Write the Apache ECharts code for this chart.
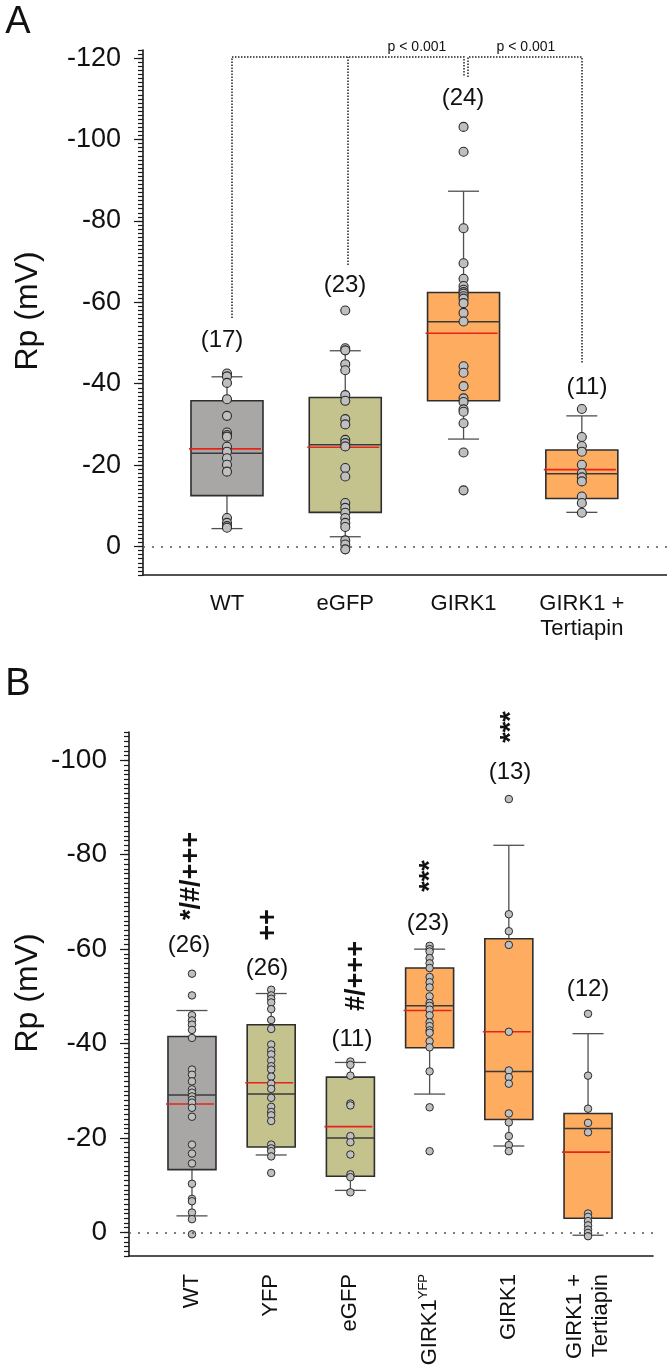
<!DOCTYPE html>
<html><head><meta charset="utf-8">
<script src="https://cdn.jsdelivr.net/npm/echarts@6/dist/echarts.min.js"></script>
<style>html,body{margin:0;padding:0;background:#fff}#c{width:667px;height:1369px}</style>
</head><body><div id="c"></div>
<script>
// ---------- Panel A data ----------
const catsA = ['WT', 'eGFP', 'GIRK1', 'GIRK1 +\nTertiapin'];
const nA = ['(17)', '(23)', '(24)', '(11)'];
const ticksA = [-120, -100, -80, -60, -40, -20, 0];
const whiskLowA = [-4.4, -2.4, -26.4, -8.4];
const q1A = [-12.5, -8.4, -35.8, -11.8];
const medianA = [-22.9, -25.0, -55.2, -17.9];
const q3A = [-35.8, -36.6, -62.4, -23.7];
const whiskHighA = [-41.7, -48.1, -87.3, -32.1];
const meanA = [-24.0, -24.4, -52.4, -18.9];
const ptsA_WT = [-42.5, -41.8, -40.2, -36.2, -32.1, -28.0, -27.4, -27.0, -24.5, -23.3, -21.7, -20.1, -18.4, -7.0, -5.8, -5.0, -4.6];
const ptsA_eGFP = [-58.0, -48.7, -48.2, -44.8, -43.3, -37.2, -35.8, -31.3, -30.0, -26.2, -25.4, -24.6, -19.3, -17.2, -10.7, -9.5, -8.3, -7.0, -5.8, -4.8, -1.5, -0.5, 0.7];
const ptsA_GIRK1 = [-103.1, -97.0, -78.2, -69.6, -65.8, -64.0, -63.1, -62.5, -62.1, -61.5, -60.9, -59.8, -57.4, -55.3, -44.3, -42.7, -39.4, -36.4, -35.5, -33.7, -33.1, -30.3, -23.1, -13.8];
const ptsA_Tert = [-33.8, -26.9, -24.7, -23.3, -20.1, -18.0, -17.0, -16.0, -12.3, -10.7, -8.3];

// ---------- Panel B data ----------
const catsB = ['WT', 'YFP', 'eGFP', 'GIRK1YFP', 'GIRK1', 'GIRK1 +\nTertiapin'];
const nB = ['(26)', '(26)', '(11)', '(23)', '(13)', '(12)'];
const sigB = ['*/#/+++', '++', '#/+++', '***', '***', ''];
const ticksB = [-100, -80, -60, -40, -20, 0];
const whiskLowB = [-3.5, -16.4, -8.9, -29.3, -18.3, 0.6];
const q1B = [-13.3, -18.1, -11.9, -39.1, -23.9, -3.0];
const medianB = [-29.1, -29.3, -20.0, -48.0, -34.1, -22.0];
const q3B = [-41.5, -44.0, -32.9, -56.0, -62.2, -25.2];
const whiskHighB = [-47.0, -50.6, -36.0, -60.0, -82.0, -42.1];
const meanB = [-27.2, -31.7, -22.4, -47.0, -42.5, -17.0];
const ptsB_WT = [-54.8, -50.2, -46.0, -44.9, -44.0, -42.9, -41.2, -34.5, -33.4, -32.0, -30.3, -29.6, -28.8, -28.1, -27.5, -26.4, -24.5, -18.6, -16.7, -14.6, -10.3, -7.1, -6.6, -4.2, -2.8, 0.4];
const ptsB_YFP = [-51.4, -50.2, -49.5, -48.7, -47.3, -45.0, -43.1, -39.8, -38.5, -37.7, -36.4, -35.2, -34.5, -33.0, -31.5, -30.4, -28.5, -26.6, -25.5, -24.8, -23.6, -18.6, -17.8, -17.2, -16.1, -12.6];
const ptsB_eGFP = [-36.2, -35.5, -33.2, -27.3, -26.9, -20.4, -19.1, -16.5, -12.3, -11.7, -8.5];
const ptsB_GIRK1YFP = [-60.7, -60.0, -59.5, -58.1, -57.0, -56.0, -54.1, -53.0, -51.9, -50.0, -48.6, -48.0, -47.2, -46.0, -44.5, -43.7, -42.8, -42.3, -40.5, -39.2, -34.1, -26.5, -17.2];
const ptsB_GIRK1 = [-91.8, -67.4, -63.8, -60.9, -42.5, -34.3, -32.9, -31.5, -25.2, -23.3, -20.4, -18.5, -17.2];
const ptsB_Tert = [-46.3, -33.2, -26.2, -23.2, -21.2, -4.0, -3.3, -2.4, -1.5, -0.6, 0.1, 0.8];

// ---------- styling ----------
const FONT = 'Liberation Sans, Arial, Helvetica, sans-serif';
const GRAY = '#a9a6a6', OLIVE = '#c4c38d', ORANGE = '#fdac60';
const colorsA = [GRAY, OLIVE, ORANGE, ORANGE];
const colorsB = [GRAY, OLIVE, OLIVE, ORANGE, ORANGE, ORANGE];

function boxData(lo, q1, md, q3, hi, mn) {
  return lo.map((_, i) => [i, lo[i], q1[i], md[i], q3[i], hi[i], mn[i]]);
}
function ptsData(groups) {
  const out = [];
  groups.forEach((g, i) => g.forEach(v => out.push([i, v])));
  return out;
}
function boxRender(boxW, capW, colors) {
  return function (params, api) {
    const i = api.value(0);
    const c = v => api.coord([i, v]);
    const lo = c(api.value(1)), q1 = c(api.value(2)), md = c(api.value(3)),
          q3 = c(api.value(4)), hi = c(api.value(5)), mn = c(api.value(6));
    const x = lo[0];
    const top = Math.min(q1[1], q3[1]), bot = Math.max(q1[1], q3[1]);
    const wl = { stroke: '#505050', lineWidth: 1.3 };
    return {
      type: 'group', children: [
        { type: 'line', shape: { x1: x, y1: hi[1], x2: x, y2: top }, style: wl },
        { type: 'line', shape: { x1: x, y1: bot, x2: x, y2: lo[1] }, style: wl },
        { type: 'line', shape: { x1: x - capW / 2, y1: hi[1], x2: x + capW / 2, y2: hi[1] }, style: wl },
        { type: 'line', shape: { x1: x - capW / 2, y1: lo[1], x2: x + capW / 2, y2: lo[1] }, style: wl },
        { type: 'rect', shape: { x: x - boxW / 2, y: top, width: boxW, height: bot - top }, style: { fill: colors[i], stroke: '#2e2e2e', lineWidth: 1.6 } },
        { type: 'line', shape: { x1: x - boxW / 2, y1: md[1], x2: x + boxW / 2, y2: md[1] }, style: { stroke: '#3a3a3a', lineWidth: 1.5 } },
        { type: 'line', shape: { x1: x - boxW / 2 - 2, y1: mn[1], x2: x + boxW / 2 - 2, y2: mn[1] }, style: { stroke: '#e8231b', lineWidth: 1.6 } }
      ]
    };
  };
}

function yAxes(gi, min, max, ticks, fs, margin) {
  return [
    {
      gridIndex: gi, type: 'value', inverse: true, min: min, max: max, interval: 1, position: 'left',
      axisLine: { show: true, onZero: false, lineStyle: { color: '#1a1a1a', width: 1.6 } },
      axisTick: { show: true, length: 5, lineStyle: { color: '#1a1a1a', width: 1.2 } },
      axisLabel: { show: true, customValues: ticks, fontSize: fs, fontFamily: FONT, color: '#111', margin: margin },
      splitLine: { show: false }
    },
    {
      gridIndex: gi, type: 'value', inverse: true, min: min, max: max, position: 'left',
      axisLine: { show: false, onZero: false },
      axisTick: { show: true, customValues: ticks, length: 9, lineStyle: { color: '#1a1a1a', width: 1.2 } },
      axisLabel: { show: false },
      splitLine: { show: false }
    }
  ];
}

const zeroLine = {
  silent: true, symbol: 'none', label: { show: false },
  lineStyle: { type: [2, 7], color: '#555', width: 1.5 },
  data: [{ yAxis: 0 }]
};

const option = {
  animation: false,
  backgroundColor: '#fff',
  grid: [
    { left: 143, top: 50, width: 524, height: 525 },
    { left: 129, top: 732, width: 524, height: 524 }
  ],
  xAxis: [
    {
      gridIndex: 0, type: 'value', min: -0.71, max: 3.72,
      axisLine: { show: true, onZero: false, lineStyle: { color: '#1a1a1a', width: 1.6 } },
      axisTick: { show: false }, splitLine: { show: false },
      axisLabel: { customValues: [0, 1, 2, 3], formatter: v => catsA[Math.round(v)], fontSize: 22, fontFamily: FONT, color: '#111', margin: 16, lineHeight: 25 }
    },
    {
      gridIndex: 1, type: 'value', min: -0.795, max: 5.82,
      axisLine: { show: true, onZero: false, lineStyle: { color: '#1a1a1a', width: 1.6 } },
      axisTick: { show: false }, splitLine: { show: false },
      axisLabel: {
        customValues: [0, 1, 2, 3, 4, 5], rotate: 90, fontSize: 22, fontFamily: FONT, color: '#111', margin: 18, lineHeight: 26,
        formatter: v => { const s = catsB[Math.round(v)]; return s === 'GIRK1YFP' ? '{n|GIRK1}{s|YFP}' : s; },
        rich: {
          n: { fontSize: 22, fontFamily: FONT, color: '#111', lineHeight: 26 },
          s: { fontSize: 13, fontFamily: FONT, color: '#111', verticalAlign: 'top', lineHeight: 26, padding: [0, 0, 10, 0] }
        }
      }
    }
  ],
  yAxis: [].concat(yAxes(0, -122, 7, ticksA, 27, 22), yAxes(1, -106, 5, ticksB, 28, 22)),
  series: [
    {
      type: 'custom', xAxisIndex: 0, yAxisIndex: 0, z: 2,
      renderItem: boxRender(72, 31, colorsA),
      encode: { x: 0, y: [1, 2, 3, 4, 5, 6] },
      data: boxData(whiskLowA, q1A, medianA, q3A, whiskHighA, meanA)
    },
    {
      type: 'scatter', xAxisIndex: 0, yAxisIndex: 0, z: 3, symbolSize: 9,
      itemStyle: { color: '#bfbfbf', borderColor: '#2b2b2b', borderWidth: 1.1, opacity: 1 },
      data: ptsData([ptsA_WT, ptsA_eGFP, ptsA_GIRK1, ptsA_Tert]),
      markLine: zeroLine
    },
    {
      type: 'custom', xAxisIndex: 1, yAxisIndex: 2, z: 2,
      renderItem: boxRender(48, 31, colorsB),
      encode: { x: 0, y: [1, 2, 3, 4, 5, 6] },
      data: boxData(whiskLowB, q1B, medianB, q3B, whiskHighB, meanB)
    },
    {
      type: 'scatter', xAxisIndex: 1, yAxisIndex: 2, z: 3, symbolSize: 7.5,
      itemStyle: { color: '#bfbfbf', borderColor: '#2b2b2b', borderWidth: 1, opacity: 1 },
      data: ptsData([ptsB_WT, ptsB_YFP, ptsB_eGFP, ptsB_GIRK1YFP, ptsB_GIRK1, ptsB_Tert]),
      markLine: zeroLine
    }
  ]
};

// ---------- annotations ----------
const txt = (x, y, s, fs, extra) => Object.assign({
  type: 'text', x: x, y: y, z: 10,
  style: { text: s, fontSize: fs, fontFamily: FONT, fill: '#111', align: 'center', verticalAlign: 'middle' }
}, extra || {});
const dotted = (pts) => ({
  type: 'polyline', z: 9, shape: { points: pts },
  style: { stroke: '#222', lineWidth: 1.5, lineDash: [1.5, 1.5], fill: null }
});

const nAPos = [[222, 340], [345, 285], [463, 98], [587, 387]];
const nBPos = [[189, 945], [267, 968], [352, 1039], [428, 923], [510, 772], [588, 989]];
const sigBPos = [[192, 876], [269, 925], [357, 976], [431, 876], [512, 727], [0, 0]];

const graphics = [
  txt(18, 23, 'A', 38),
  txt(18, 685, 'B', 38),
  txt(28, 311, 'Rp (mV)', 32, { rotation: Math.PI / 2 }),
  txt(28, 993, 'Rp (mV)', 32, { rotation: Math.PI / 2 }),
  txt(417, 47, 'p < 0.001', 14),
  txt(526, 47, 'p < 0.001', 14),
  dotted([[232, 318], [232, 57], [464, 57], [464, 77]]),
  dotted([[348, 265], [348, 57]]),
  dotted([[468, 77], [468, 57], [582, 57], [582, 363]])
];
nA.forEach((s, i) => graphics.push(txt(nAPos[i][0], nAPos[i][1], s, 24)));
nB.forEach((s, i) => graphics.push(txt(nBPos[i][0], nBPos[i][1], s, 24)));
sigB.forEach((s, i) => { if (s) graphics.push(txt(sigBPos[i][0], sigBPos[i][1], s, 27, { rotation: Math.PI / 2, style: { text: s, fontSize: 27, fontWeight: 'bold', fontFamily: FONT, fill: '#111', align: 'center', verticalAlign: 'middle' } })); });
option.graphic = graphics;

const chart = echarts.init(document.getElementById('c'), null, { renderer: 'canvas', width: 667, height: 1369 });
chart.setOption(option);
</script>
</body></html>
